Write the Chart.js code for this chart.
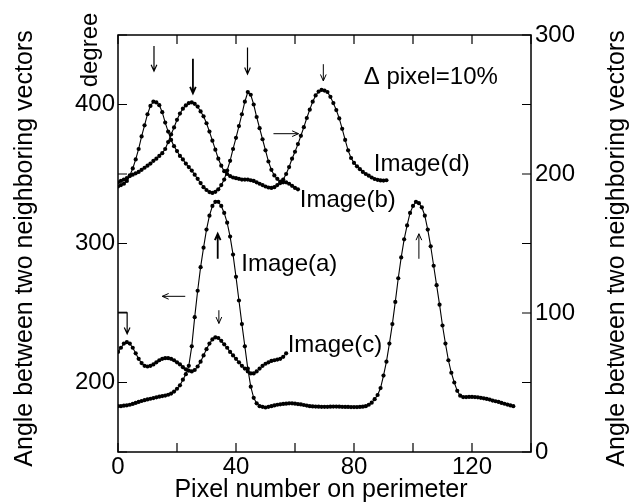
<!DOCTYPE html>
<html>
<head>
<meta charset="utf-8">
<script src="https://cdn.jsdelivr.net/npm/chart.js@4/dist/chart.umd.min.js"></script>
<style>
  body { margin: 0; background: #fff; }
</style>
</head>
<body>
<canvas id="chart" width="629" height="502"></canvas>
<script>
// one value per pixel number 0, 1, 2, ...
// Image(a), (b), (c) read on the left axis, Image(d) on the right axis (degree)
const imageA = [
    183, 183, 183.3, 183.6, 184, 184.6, 185.3, 186, 186.7, 187.3,
    187.8, 188.3, 188.8, 189.3, 189.8, 190.2, 190.6, 191.2, 192, 193.5,
    195.5, 198, 202, 206, 212, 226, 247, 266, 283, 297,
    310, 320, 327, 330, 330, 327, 322, 315, 305, 292,
    276, 259, 242, 226, 210, 197, 189, 185, 183, 182.5,
    182, 182.5, 183, 183.5, 184, 184.3, 184.6, 184.8, 185, 185,
    184.8, 184.5, 184.2, 183.8, 183.4, 183, 182.8, 182.7, 182.6, 182.5,
    182.5, 182.5, 182.6, 182.7, 182.7, 182.6, 182.5, 182.4, 182.4, 182.3,
    182.3, 182.3, 182.4, 182.6, 183, 184, 185.5, 188, 191, 196,
    205, 215, 228, 242, 258, 275, 290, 303, 313, 322,
    327, 330, 329, 326, 320, 310, 298, 284, 270, 256,
    241, 228, 216, 207, 200, 194, 190.5, 189.5, 189.5, 189.6,
    189.6, 189.5, 189.3, 189, 188.6, 188.2, 187.7, 187, 186.5, 186,
    185.3, 184.7, 184.1, 183.5, 183
];
const imageB = [
    344, 345, 346, 347, 348.5, 349.5, 350.5, 351.5, 353, 354.5,
    356, 357.5, 359.5, 361, 363, 365, 368, 373, 378.5, 383.5,
    389, 393.5, 397, 399.3, 401, 401.6, 400.5, 398.5, 395, 391.5,
    386.5, 380.5, 374, 367.5, 361, 356, 352, 350, 348.5, 347.5,
    347, 346.5, 346, 346, 346, 345.5, 345, 344, 343, 342,
    341, 340.3, 340, 340.5, 342, 343.5, 344, 344, 343, 341.5,
    340, 339
];
const imageC = [
    222, 225, 228, 229, 228, 225, 221, 217, 214, 212,
    211.5, 212, 213, 214.5, 216, 217, 217.5, 217.5, 217, 216,
    214.5, 213, 211, 209.5, 208.5, 208, 209, 211.5, 215, 219.5,
    224, 228, 231, 232.5, 232, 230, 227.5, 225, 222, 219.5,
    217, 214.5, 212, 210, 208, 206.5, 206.5, 208, 210, 212,
    213.5, 214.5, 215.5, 216, 216.5, 217, 218.5, 221
];
const imageD = [
    191, 192, 193, 195, 199, 204, 210.5, 218, 227, 235,
    243, 249, 252, 251.5, 249.5, 244.5, 237, 230.5, 224.5, 220,
    216.5, 213, 210.5, 207.5, 205, 202.5, 199.5, 196.5, 193.5, 190.5,
    188.5, 187, 186.4, 187.2, 189, 192, 196, 202.5, 209.5, 218,
    226, 234.5, 243, 252, 259, 257, 250, 241, 233, 225,
    217, 209, 203, 199, 196.5, 194.5, 196, 200, 205, 211,
    216, 221.5, 227.5, 233.7, 240.3, 246.3, 252, 256.5, 259.3, 260.5,
    260, 259, 255.5, 251, 246, 240, 232.5, 224.5, 217, 211.5,
    208, 205.5, 203.5, 201.5, 200, 198.8, 197.5, 196.4, 195.8, 195.4,
    195.3, 195.5
];

const xTickLabels = [0, 40, 80, 120];
const leftTickLabels = [200, 300, 400];
const rightTickLabels = [0, 100, 200, 300];

const FONT = "'Liberation Sans', Arial, Helvetica, sans-serif";

function toPoints(values) {
    return values.map((v, i) => ({ x: i, y: v }));
}

function lineSet(label, values, axis) {
    return {
        label: label,
        data: toPoints(values),
        yAxisID: axis,
        borderColor: '#000',
        borderWidth: 1.1,
        pointRadius: 2.1,
        pointBackgroundColor: '#000',
        pointBorderWidth: 0,
        pointHoverRadius: 0,
        tension: 0
    };
}

// open arrow head drawn at (x2, y2)
function arrow(ctx, x1, y1, x2, y2, width) {
    const ang = Math.atan2(y2 - y1, x2 - x1);
    const head = 7;
    ctx.lineWidth = width;
    ctx.beginPath();
    ctx.moveTo(x1, y1);
    ctx.lineTo(x2, y2);
    ctx.moveTo(x2 - head * Math.cos(ang - 0.42), y2 - head * Math.sin(ang - 0.42));
    ctx.lineTo(x2, y2);
    ctx.lineTo(x2 - head * Math.cos(ang + 0.42), y2 - head * Math.sin(ang + 0.42));
    ctx.stroke();
}

const framePlugin = {
    id: 'frame',
    afterDraw(chart) {
        const { ctx, chartArea: a, scales } = chart;
        const sx = scales.x, sy = scales.y, sy2 = scales.y2;
        ctx.save();
        ctx.strokeStyle = '#000';
        ctx.fillStyle = '#000';

        // box
        ctx.lineWidth = 1.5;
        ctx.strokeRect(a.left, a.top, a.right - a.left, a.bottom - a.top);

        // inward ticks
        ctx.lineWidth = 1.2;
        ctx.beginPath();
        sx.ticks.forEach(t => {
            const px = sx.getPixelForValue(t.value);
            ctx.moveTo(px, a.bottom); ctx.lineTo(px, a.bottom - 9);
            ctx.moveTo(px, a.top); ctx.lineTo(px, a.top + 9);
        });
        sy.ticks.forEach(t => {
            const py = sy.getPixelForValue(t.value);
            ctx.moveTo(a.left, py); ctx.lineTo(a.left + 9, py);
        });
        sy2.ticks.forEach(t => {
            const py = sy2.getPixelForValue(t.value);
            ctx.moveTo(a.right, py); ctx.lineTo(a.right - 9, py);
        });
        ctx.stroke();

        // axis titles
        ctx.font = '25px ' + FONT;
        ctx.textAlign = 'center';
        ctx.textBaseline = 'alphabetic';
        ctx.fillText('Pixel number on perimeter', 321, 497);
        const mid = (a.top + a.bottom) / 2 + 5;
        ['left', 'right'].forEach(side => {
            ctx.save();
            ctx.translate(side === 'left' ? 32 : 624, mid);
            ctx.rotate(-Math.PI / 2);
            ctx.fillText('Angle between two neighboring vectors', 0, 0);
            ctx.restore();
        });
        ctx.save();
        ctx.font = '24px ' + FONT;
        ctx.translate(97, 50);
        ctx.rotate(-Math.PI / 2);
        ctx.fillText('degree', 0, 0);
        ctx.restore();

        // labels, placed in data units (pixel number, left axis degree)
        const X = v => sx.getPixelForValue(v);
        const Y = v => sy.getPixelForValue(v);
        ctx.font = '24px ' + FONT;
        ctx.textAlign = 'left';
        ctx.fillText('\u0394 pixel=10%', X(83.3), Y(414.5));
        ctx.fillText('Image(d)', X(86.7), Y(352));
        ctx.fillText('Image(b)', X(61.6), Y(326.5));
        ctx.fillText('Image(a)', X(41.8), Y(280));
        ctx.fillText('Image(c)', X(57.5), Y(222.3));

        // peak arrows
        arrow(ctx, X(12.2), Y(442), X(12.2), Y(424), 1.2);
        arrow(ctx, X(25.4), Y(433), X(25.4), Y(408), 1.8);
        arrow(ctx, X(43.9), Y(441), X(43.9), Y(422), 1.2);
        arrow(ctx, X(69.6), Y(429), X(69.6), Y(417), 1);
        arrow(ctx, X(52.7), Y(379), X(61.2), Y(379), 1);
        arrow(ctx, X(33.8), Y(289), X(33.8), Y(307), 1.8);
        arrow(ctx, X(102), Y(289), X(102), Y(307), 1);
        arrow(ctx, X(22.8), Y(262), X(15), Y(262), 1);
        arrow(ctx, X(34.2), Y(252), X(34.2), Y(242.5), 1);
        // bent arrow at the first corner of Image(c)
        ctx.lineWidth = 1.2;
        ctx.beginPath();
        ctx.moveTo(X(0), Y(250.5));
        ctx.lineTo(X(3.1), Y(250.5));
        ctx.stroke();
        arrow(ctx, X(3.1), Y(250.5), X(3.1), Y(235), 1.2);

        ctx.restore();
    }
};

const tickFont = { size: 24, family: FONT };

new Chart(document.getElementById('chart'), {
    type: 'line',
    data: {
        datasets: [
            lineSet('Image(a)', imageA, 'y'),
            lineSet('Image(b)', imageB, 'y'),
            lineSet('Image(c)', imageC, 'y'),
            lineSet('Image(d)', imageD, 'y2')
        ]
    },
    options: {
        responsive: false,
        animation: false,
        devicePixelRatio: 1,
        layout: { padding: { top: 35, left: 0, right: 0, bottom: 0 } },
        plugins: {
            legend: { display: false },
            tooltip: { enabled: false }
        },
        scales: {
            x: {
                type: 'linear',
                min: 0,
                max: 140,
                afterFit: s => { s.height = 50; },
                grid: { drawOnChartArea: false, drawTicks: false },
                border: { display: false },
                ticks: {
                    stepSize: 20,
                    autoSkip: false,
                    maxRotation: 0,
                    padding: 1,
                    color: '#000',
                    font: tickFont,
                    callback: v => xTickLabels.includes(v) ? String(v) : ''
                }
            },
            y: {
                position: 'left',
                min: 150,
                max: 450,
                afterFit: s => { s.width = 118; },
                grid: { drawOnChartArea: false, drawTicks: false },
                border: { display: false },
                ticks: {
                    stepSize: 50,
                    padding: 3,
                    color: '#000',
                    font: tickFont,
                    callback: v => leftTickLabels.includes(v) ? String(v) : ''
                }
            },
            y2: {
                position: 'right',
                min: 0,
                max: 300,
                afterFit: s => { s.width = 98; },
                grid: { drawOnChartArea: false, drawTicks: false },
                border: { display: false },
                ticks: {
                    stepSize: 50,
                    padding: 4,
                    color: '#000',
                    font: tickFont,
                    callback: v => rightTickLabels.includes(v) ? String(v) : ''
                }
            }
        }
    },
    plugins: [framePlugin]
});
</script>
</body>
</html>
